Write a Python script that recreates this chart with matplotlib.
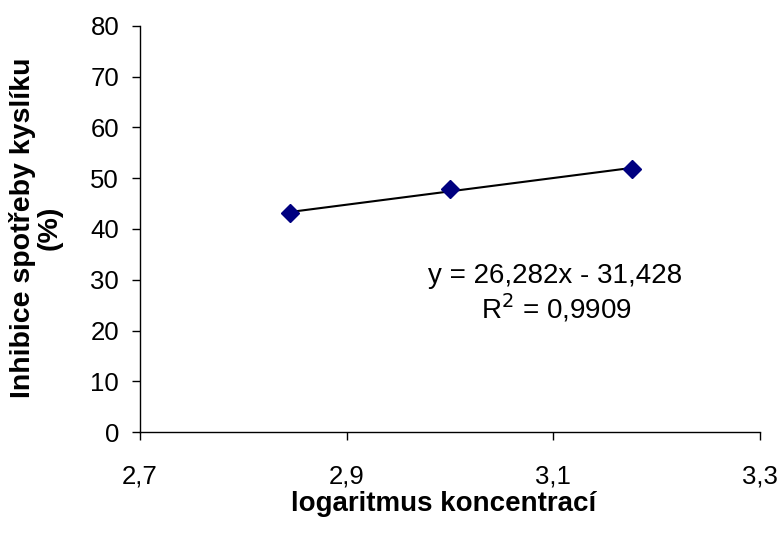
import numpy as np
import matplotlib
matplotlib.use("Agg")
import matplotlib.pyplot as plt
from matplotlib.ticker import FuncFormatter

plt.rcParams['font.family'] = ['Liberation Sans', 'DejaVu Sans']

# log10 of concentration and measured oxygen-consumption inhibition (%)
log_conc = [2.845, 3.000, 3.176]
inhibition = [43.1, 47.9, 51.8]

# linear trend line parameters
slope = 26.282
intercept = -31.428
r_squared = 0.9909

x_ticks = [2.7, 2.9, 3.1, 3.3]
x_tick_labels = ['2,7', '2,9', '3,1', '3,3']
y_ticks = [0, 10, 20, 30, 40, 50, 60, 70, 80]

W, H = 781, 533
fig = plt.figure(figsize=(W / 100, H / 100), dpi=100)
ax = fig.add_axes([140 / W, 1 - 432 / H, 620 / W, 406 / H])

xf = np.array([min(log_conc), max(log_conc)])
ax.plot(xf, slope * xf + intercept, color='black', lw=1.5, zorder=2)
ax.plot(log_conc, inhibition, linestyle='none', marker='D', markersize=9,
        color='#000080', zorder=3)

ax.set_xlim(2.7, 3.3)
ax.set_ylim(0, 80)
ax.set_xticks(x_ticks)
ax.set_xticklabels(x_tick_labels)
ax.set_yticks(y_ticks)
ax.yaxis.set_major_formatter(FuncFormatter(lambda v, p: f"{v:.0f}"))

for s in ['top', 'right']:
    ax.spines[s].set_visible(False)
for s in ['left', 'bottom']:
    ax.spines[s].set_linewidth(1.0)
    ax.spines[s].set_color('black')

ax.tick_params(axis='x', length=5.5, width=1, labelsize=18.5, pad=18)
ax.tick_params(axis='y', length=5.5, width=1, labelsize=18.5, pad=9.5)

def px(x, y):
    return x / W, 1 - y / H

fig.text(*px(444, 510.7), 'logaritmus koncentrací',
         ha='center', va='baseline', fontsize=20, fontweight='bold')
fig.text(*px(23, 228), 'Inhibice spotřeby kyslíku',
         ha='center', va='center', rotation=90, fontsize=20.5, fontweight='bold')
fig.text(*px(50, 228), '(%)',
         ha='center', va='center', rotation=90, fontsize=20.5, fontweight='bold')

eq = f"y = {slope:.3f}x - {abs(intercept):.3f}".replace('.', ',')
r2 = f"R$^2$ = {r_squared:.4f}".replace('.', ',')
fig.text(*px(555, 283.3), eq, ha='center', va='baseline', fontsize=20)
fig.text(*px(556, 318), r2, ha='center', va='baseline', fontsize=20)

fig.savefig('out.png', dpi=100)
